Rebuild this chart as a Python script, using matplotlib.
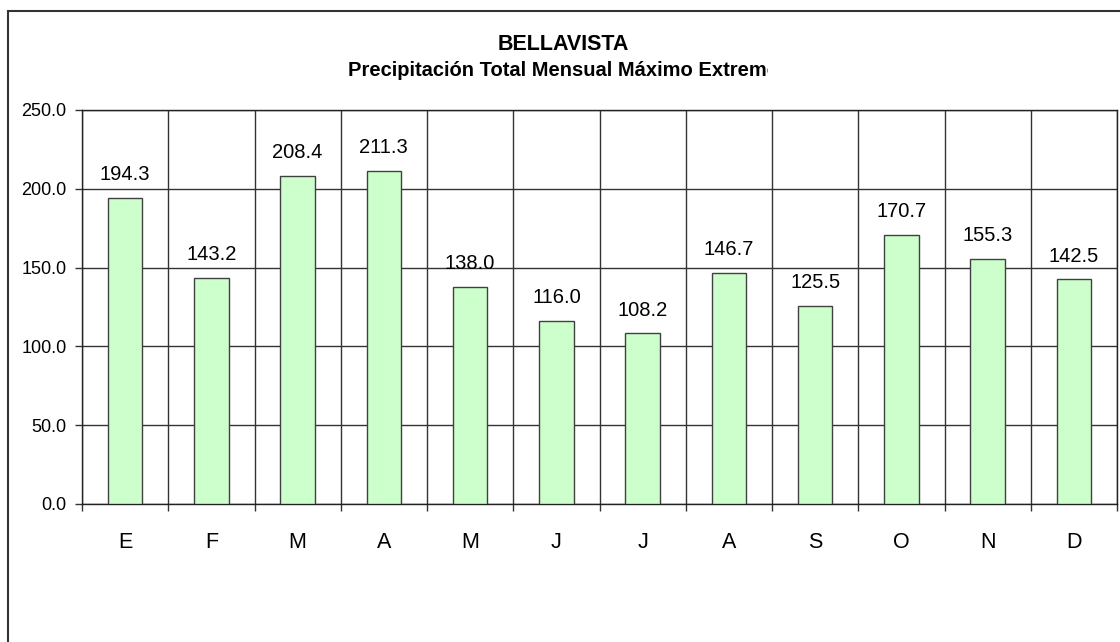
import matplotlib.pyplot as plt
from matplotlib.patches import Rectangle
from matplotlib.transforms import Bbox, TransformedBbox
import numpy as np

plt.rcParams['font.family'] = ['Liberation Sans', 'DejaVu Sans']

meses = ['E', 'F', 'M', 'A', 'M', 'J', 'J', 'A', 'S', 'O', 'N', 'D']
precip = [194.3, 143.2, 208.4, 211.3, 138.0, 116.0, 108.2, 146.7, 125.5, 170.7, 155.3, 142.5]
titulo1 = 'BELLAVISTA'
titulo2 = 'Precipitación Total Mensual Máximo Extremo'

fig = plt.figure(figsize=(11.2, 6.42), dpi=100)
ax = fig.add_axes([82/1120, 1 - 504/642, (1117 - 82)/1120, (504 - 110)/642])

x = np.arange(len(meses))
barras = ax.bar(x, precip, width=0.4, color='#CCFFCC', edgecolor='#404040', linewidth=1, zorder=3)

# etiquetas encima de las barras
for xi, v in zip(x, precip):
    ax.annotate(f'{v:.1f}', (xi, v), xytext=(0, 10), textcoords='offset points',
                ha='center', va='bottom', fontsize=14.5)

ax.set_xlim(-0.5, len(meses) - 0.5)
ax.set_ylim(0, 250)
ax.set_yticks(np.arange(0, 251, 50))
ax.set_yticklabels([f'{t:.1f}' for t in np.arange(0, 251, 50)], fontsize=13)
ax.set_xticks(x)
ax.set_xticklabels(meses, fontsize=15.5)
ax.set_xticks(np.arange(-0.5, len(meses)), minor=True)

ax.tick_params(axis='x', which='major', length=0, pad=20)
ax.tick_params(axis='x', which='minor', length=5, width=1, color='#333333')
ax.tick_params(axis='y', length=5, width=1, color='#333333', pad=6)

ax.grid(axis='y', which='major', color='#333333', linewidth=1, zorder=0)
ax.grid(axis='x', which='minor', color='#333333', linewidth=1, zorder=0)
ax.set_axisbelow(True)

for lado in ['top', 'right', 'left', 'bottom']:
    ax.spines[lado].set_color('#222222')
    ax.spines[lado].set_linewidth(1)

# titulo (recortado como en el original)
fig.text(563/1120, 1 - 45/642, titulo1, ha='center', va='center', fontsize=15.5, fontweight='bold')
t2 = fig.text(563/1120, 1 - 71/642, titulo2, ha='center', va='center', fontsize=14.5, fontweight='bold')
t2.set_clip_box(TransformedBbox(Bbox([[0, 0], [768/1120, 1]]), fig.transFigure))
t2.set_clip_on(True)

# borde del grafico
fig.patches.append(Rectangle((8/1120, -0.1), 1.2, 1.1 - 11/642, transform=fig.transFigure,
                             fill=False, edgecolor='#333333', linewidth=1.5))

fig.savefig('out.png', dpi=100)
